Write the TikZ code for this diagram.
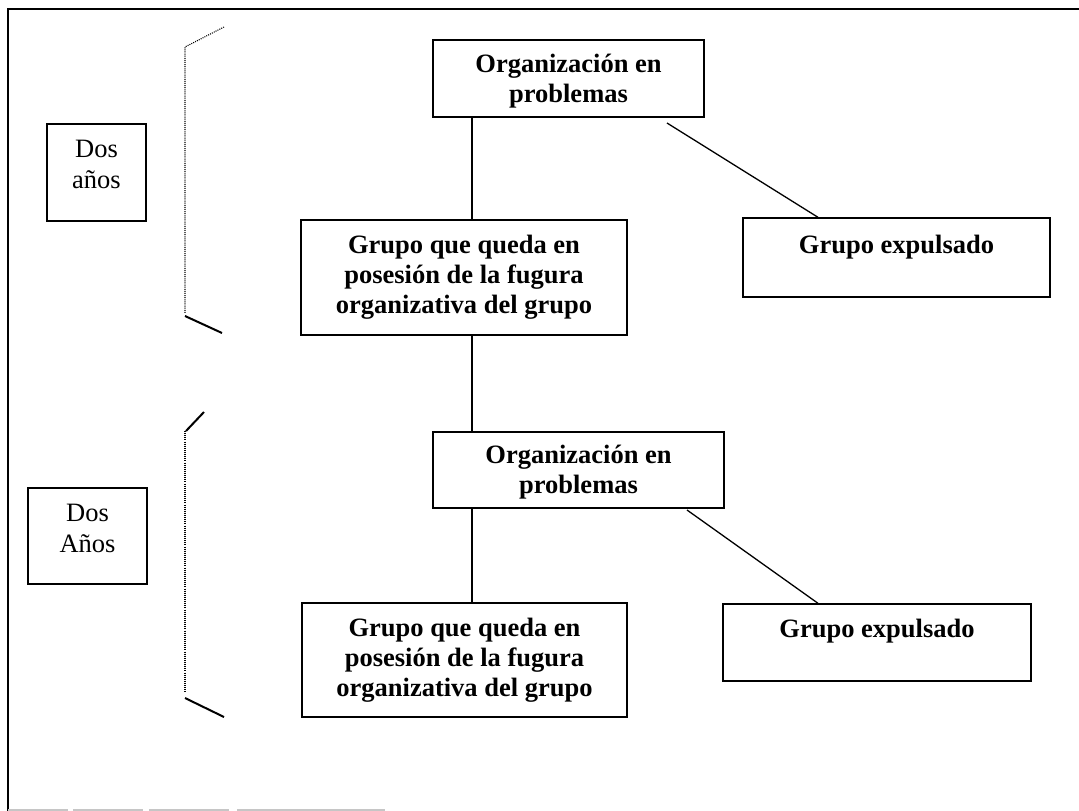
\documentclass[tikz,border=0pt]{standalone}
\usepackage{fontspec}
\setmainfont{Liberation Serif}
\usetikzlibrary{calc}
\tikzset{
  box/.style={draw, line width=1.4pt, inner sep=0pt, rectangle},
  txt/.style={inner sep=0pt, align=center, font=\fontsize{26.5}{30}\selectfont\bfseries},
  plaintxt/.style={inner sep=0pt, align=center, font=\fontsize{26.5}{31}\selectfont},
  link/.style={line width=1.3pt},
  brsolid/.style={line width=2pt},
  brdot/.style={line width=1.1pt, dash pattern=on 1pt off 1.1pt},
  frame/.style={line width=1.8pt}
}
\begin{document}
\begin{tikzpicture}[x=1pt,y=-1pt]
\useasboundingbox (0,0) rectangle (1079,811);
% frame
\coordinate (fTL) at (8,9);
\coordinate (fTR) at (1079,9);
\coordinate (fBL) at (8,811);
\draw[frame] (fTR) -- (fTL) -- (fBL);
\coordinate (gb1) at (8,810);
\coordinate (gb2) at (385,810);
\draw[gray!45, line width=1.6pt, dash pattern=on 60pt off 5pt on 70pt off 6pt on 80pt off 8pt on 150pt off 4pt] (gb1) -- (gb2);

% boxes
\node[box, minimum width=271, minimum height=77] (org1) at (568.5,78.5) {};
\node[box, minimum width=99, minimum height=97] (dos1) at (96.5,172.5) {};
\node[box, minimum width=326, minimum height=115] (grupo1) at (464,277.5) {};
\node[box, minimum width=307, minimum height=79] (exp1) at (896.5,257.5) {};
\node[box, minimum width=291, minimum height=76] (org2) at (578.5,470) {};
\node[box, minimum width=119, minimum height=96] (dos2) at (87.5,536) {};
\node[box, minimum width=325, minimum height=114] (grupo2) at (464.5,660) {};
\node[box, minimum width=308, minimum height=77] (exp2) at (877,642.5) {};

% texts
\node[txt] (org1t) at (568.5,81) {\strut Organización en\\problemas\strut};
\node[plaintxt] (dos1t) at (96.5,166.5) {\strut Dos\\años\strut};
\node[txt] (grupo1t) at (464,277.5) {\strut Grupo que queda en\\posesión de la fugura\\organizativa del grupo\strut};
\node[txt] (exp1t) at (896.5,247) {\strut Grupo expulsado\strut};
\node[txt] (org2t) at (578.5,472) {\strut Organización en\\problemas\strut};
\node[plaintxt] (dos2t) at (87.5,531) {\strut Dos\\Años\strut};
\node[txt] (grupo2t) at (464.5,660) {\strut Grupo que queda en\\posesión de la fugura\\organizativa del grupo\strut};
\node[txt] (exp2t) at (877,631) {\strut Grupo expulsado\strut};

% connectors
\coordinate (vx) at (472,0);
\draw[link] (org1.south -| vx) -- (grupo1.north -| vx);
\draw[link] (grupo1.south -| vx) -- (org2.north -| vx);
\draw[link] (org2.south -| vx) -- (grupo2.north -| vx);
\coordinate (d1s) at (667,123);
\coordinate (d1e) at (818,0);
\draw[link] (d1s) -- (exp1.north -| d1e);
\coordinate (d2s) at (687,510);
\coordinate (d2e) at (818,0);
\draw[link] (d2s) -- (exp2.north -| d2e);

% brackets
\coordinate (b1a) at (224,27);
\coordinate (b1b) at (185,47);
\coordinate (b1c) at (185,313);
\coordinate (b1d) at (185,316);
\coordinate (b1e) at (222,333);
\draw[brdot] (b1a) -- (b1b) -- (b1c);
\draw[brsolid] (b1d) -- (b1e);
\coordinate (b2a) at (204,412);
\coordinate (b2b) at (186,431);
\coordinate (b2c) at (185,431);
\coordinate (b2d) at (185,693);
\coordinate (b2e) at (185,698);
\coordinate (b2f) at (224,717);
\draw[brsolid] (b2a) -- (b2b);
\draw[brdot] (b2c) -- (b2d);
\draw[brsolid] (b2e) -- (b2f);
\end{tikzpicture}
\end{document}
